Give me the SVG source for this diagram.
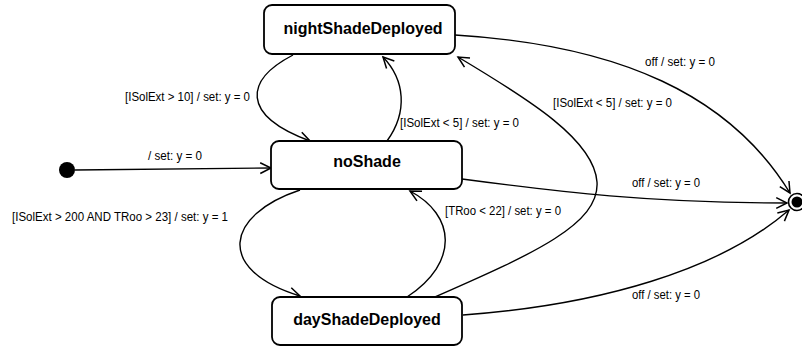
<svg xmlns="http://www.w3.org/2000/svg" width="802" height="346" viewBox="0 0 802 346">
<style>
.box{fill:#fff;stroke:#000;stroke-width:1.8}
.name{font-family:"Liberation Sans",Arial,sans-serif;font-weight:bold;font-size:16px;fill:#000;text-anchor:middle}
.lbl{font-family:"Liberation Sans",Arial,sans-serif;font-size:12px;fill:#000}
.edge{fill:none;stroke:#000;stroke-width:1.4;marker-end:url(#arr)}
</style>
<defs>
<marker id="arr" markerUnits="userSpaceOnUse" markerWidth="14" markerHeight="14" viewBox="-11 -6 13 12" refX="0" refY="0" orient="auto">
<path d="M-10,-5 L0,0 L-10,5" fill="none" stroke="#000" stroke-width="1.4"/>
</marker>
</defs>
<rect width="802" height="346" fill="#fff"/>
<g id="connectors">
<path class="edge" d="M75,170 L271,168"/>
<path class="edge" d="M293,55 C245,80 240,115 310,141"/>
<path class="edge" d="M387,141 C408,112 405,80 383,57"/>
<path class="edge" d="M300,190 C225,215 215,270 300,296"/>
<path class="edge" d="M407,297 C460,262 455,215 410,191"/>
<path class="edge" d="M435,297 C530,255 600,225 597,182 C594,140 530,100 458,57"/>
<path class="edge" d="M455,35 C620,45 730,95 790,193"/>
<path class="edge" d="M462,179 C560,192 650,203 787,203"/>
<path class="edge" d="M463,315 C600,305 720,270 789,210"/>
</g>
<g id="labels">
<text class="lbl" x="125" y="101" textLength="125" lengthAdjust="spacingAndGlyphs">[ISolExt &gt; 10] / set: y = 0</text>
<text class="lbl" x="148" y="160" textLength="54" lengthAdjust="spacingAndGlyphs">/ set: y = 0</text>
<text class="lbl" x="12" y="221" textLength="216" lengthAdjust="spacingAndGlyphs">[ISolExt &gt; 200 AND TRoo &gt; 23] / set: y = 1</text>
<text class="lbl" x="400" y="127" textLength="119" lengthAdjust="spacingAndGlyphs">[ISolExt &lt; 5] / set: y = 0</text>
<text class="lbl" x="445" y="215" textLength="116" lengthAdjust="spacingAndGlyphs">[TRoo &lt; 22] / set: y = 0</text>
<text class="lbl" x="553" y="107" textLength="119" lengthAdjust="spacingAndGlyphs">[ISolExt &lt; 5] / set: y = 0</text>
<text class="lbl" x="645" y="66" textLength="70" lengthAdjust="spacingAndGlyphs">off / set: y = 0</text>
<text class="lbl" x="632" y="187" textLength="68" lengthAdjust="spacingAndGlyphs">off / set: y = 0</text>
<text class="lbl" x="632" y="299" textLength="68" lengthAdjust="spacingAndGlyphs">off / set: y = 0</text>
</g>
<g id="initial">
<circle cx="67" cy="170" r="8" fill="#000"/>
</g>
<g id="final">
<circle cx="797" cy="202" r="8.5" fill="#fff" stroke="#000" stroke-width="1.6"/>
<circle cx="797" cy="202" r="5.5" fill="#000"/>
</g>
<g id="nightShadeDeployed">
<rect class="box" x="264" y="5" width="191" height="49" rx="8"/>
<text class="name" x="363" y="34">nightShadeDeployed</text>
</g>
<g id="noShade">
<rect class="box" x="271" y="141" width="191" height="48" rx="8"/>
<text class="name" x="367" y="167">noShade</text>
</g>
<g id="dayShadeDeployed">
<rect class="box" x="272" y="297" width="190" height="48" rx="8"/>
<text class="name" x="367" y="325">dayShadeDeployed</text>
</g>
</svg>
